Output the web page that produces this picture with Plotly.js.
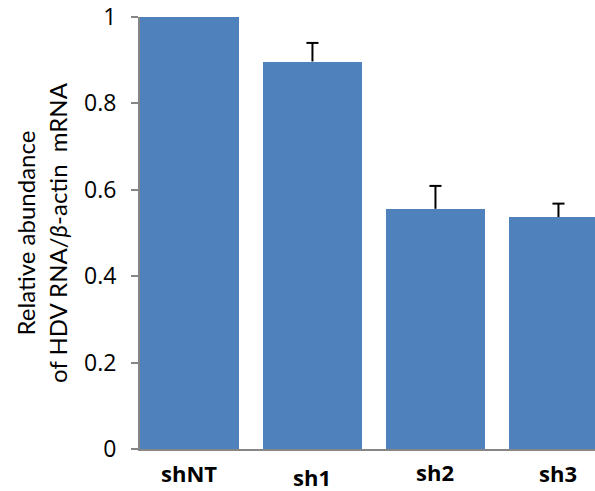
<!DOCTYPE html>
<html>
<head>
<meta charset="utf-8">
<script src="https://cdn.plot.ly/plotly-3.0.1.min.js"></script>
<style>html,body{margin:0;padding:0;background:#fff;}#chart{width:595px;height:491px;}</style>
</head>
<body>
<div id="chart"></div>
<script>
const categories = ['shNT', 'sh1', 'sh2', 'sh3'];
const values = [1.0, 0.897, 0.556, 0.537];
const errorsPlus = [null, 0.043, 0.053, 0.031];
const yTickVals = [0, 0.2, 0.4, 0.6, 0.8, 1];
const yTickText = ['0', '0.2', '0.4', '0.6', '0.8', '1'];

// style-only settings
const labelShift = [0, -4, 1, 0];
const capHalf = 0.049;   // cap half-width in category units
const TITLE_FONT = 'Lato, "Open Sans", sans-serif';
const TICK_FONT = '"Open Sans", Lato, sans-serif';

const xIdx = categories.map((c, i) => i);

const barTrace = {
  type: 'bar',
  x: xIdx,
  y: values,
  width: 0.805,
  marker: {color: '#4F81BD', line: {width: 0}},
  hoverinfo: 'none'
};

// upper-only error bars built from the data
const ex = [], ey = [];
values.forEach((v, i) => {
  const e = errorsPlus[i];
  if (e === null) return;
  ex.push(i, i, null, i - capHalf, i + capHalf, null);
  ey.push(v, v + e, null, v + e, v + e, null);
});
const errTrace = {
  type: 'scatter', mode: 'lines',
  x: ex, y: ey,
  line: {color: '#000', width: 2},
  connectgaps: false,
  hoverinfo: 'none',
  cliponaxis: false
};

const annotations = categories.map((c, i) => ({
  x: i, xref: 'x', y: 0, yref: 'paper',
  text: '<b>' + c + '</b>',
  showarrow: false,
  yanchor: 'top',
  borderpad: 0,
  yshift: -8 + labelShift[i],
  font: {family: TICK_FONT, size: 22, color: '#000'}
}));

const layout = {
  width: 595, height: 491,
  margin: {l: 140, r: 0, t: 17, b: 42},
  paper_bgcolor: '#fff', plot_bgcolor: '#fff',
  showlegend: false,
  bargap: 0,
  xaxis: {
    range: [-0.402, 3.297],
    showticklabels: false,
    ticks: '',
    showgrid: false, zeroline: false,
    showline: true, linecolor: '#868686', linewidth: 2
  },
  yaxis: {
    range: [0, 1],
    tickvals: yTickVals, ticktext: yTickText,
    ticks: 'outside', ticklen: 7, tickwidth: 2, tickcolor: '#868686',
    showline: true, linecolor: '#868686', linewidth: 2,
    showgrid: false, zeroline: false,
    ticklabelstandoff: 10,
    tickfont: {family: TICK_FONT, size: 23, color: '#000'},
    title: {
      text: 'Relative abundance<br>of HDV RNA/<i>β</i>-actin  mRNA',
      font: {family: TITLE_FONT, size: 24, color: '#000'},
      standoff: 10
    }
  },
  annotations: annotations
};

Plotly.newPlot('chart', [barTrace, errTrace], layout, {displayModeBar: false, staticPlot: true});
</script>
</body>
</html>
